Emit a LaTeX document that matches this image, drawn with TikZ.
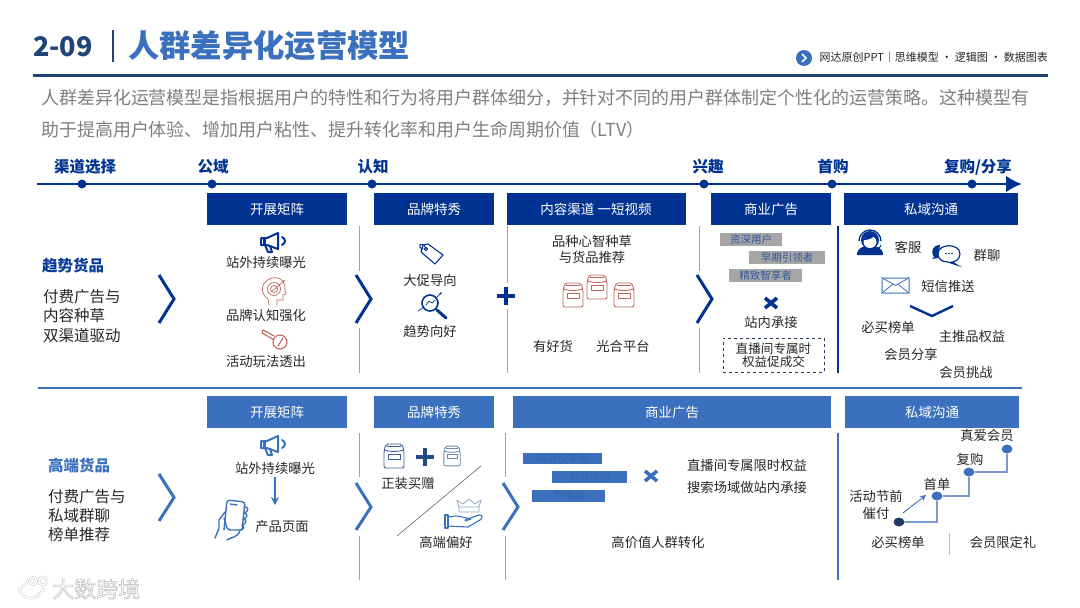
\documentclass[tikz,border=0pt]{standalone}
\usepackage{fontspec}
\usepackage{tikz}
\usepackage{xcolor}
\usetikzlibrary{arrows.meta,positioning,calc,shapes.geometric,backgrounds}
\setmainfont{Noto Sans CJK SC}
\definecolor{ink}{HTML}{262626}
\definecolor{inkgray}{HTML}{7F7F7F}
\definecolor{navyblue}{HTML}{003391}
\definecolor{deepblue}{HTML}{1F4478}
\definecolor{midblue}{HTML}{3A70BE}
\definecolor{softblue}{HTML}{8FA5C8}
\definecolor{stepblue}{HTML}{7A9BD0}
\definecolor{darkdot}{HTML}{1F3864}
\definecolor{iconred}{HTML}{C0655A}
\definecolor{tagtext}{HTML}{34589C}
\definecolor{bartext}{HTML}{3565AE}
\definecolor{bagblue}{HTML}{3D5F96}
\newcommand{\pxfont}[1]{\fontsize{#1}{#1}\selectfont}
\tikzset{
  txt/.style={inner sep=0pt,font=\pxfont{13.3},text=ink,align=center},
  sidetxt/.style={inner sep=0pt,font=\pxfont{15.5},text=ink,anchor=west},
  headbox/.style={fill=navyblue,inner sep=0pt,minimum height=32,
                  text=white,font=\pxfont{13.5}},
  headlite/.style={headbox,fill=midblue},
  stage/.style={inner sep=0pt,font=\pxfont{15.5}\bfseries,text=navyblue},
  tldot/.style={circle,fill=navyblue,inner sep=0pt,minimum size=9},
  stepdot/.style={ellipse,fill=midblue,inner sep=0pt,minimum width=11,minimum height=9},
  graytag/.style={fill=black!35,inner sep=0pt,minimum height=13,
                  text=tagtext,font=\pxfont{10.5}},
  bluebar/.style={fill=midblue,inner sep=0pt,text=bartext,font=\pxfont{10.5}},
  chev/.style={navyblue,line width=3pt,line join=miter},
  thinline/.style={softblue,line width=0.8pt},
  crossmark/.style={line width=3.6pt},
  flowarr/.style={-{Stealth[length=8pt,width=8pt]},midblue,line width=1.8pt},
  iconline/.style={line width=1.1pt,line join=round,line cap=round},
  markline/.style={draw=black!22,double=white,double distance=1.5pt,line width=0.5pt}
}
\newcommand{\megaphone}[3]{%
  \begin{scope}[shift={(#1,#2)},#3,iconline,line width=2pt]
    \draw (-13,-4) -- (-7,-4) -- (4,-9) -- (4,7) -- (-7,3) -- (-13,3) -- cycle;
    \draw (-9,3) -- (-6,10) -- (-2,10) -- (-4,4);
    \draw (8,-5) .. controls (12,-3) and (12,1) .. (8,3);
    \fill (-11,-3) rectangle (-8,2);
  \end{scope}}
\newcommand{\bagicon}[4]{%
  \begin{scope}[shift={(#1,#2)},scale=#4,#3,iconline,line width=0.9pt]
    \draw[rounded corners=2pt] (-8,-12) -- (8,-12) -- (10,-5) -- (10,12) -- (-10,12) -- (-10,-5) -- cycle;
    \draw (-9.5,-6) .. controls (-5,-4) and (5,-4) .. (9.5,-6);
    \draw[line width=0.4pt] (-7,-10) -- (7,-10);
    \draw[line width=0.7pt] (-6,-2) rectangle (6,3);
  \end{scope}}
\newcommand{\timesmark}[3]{%
  \draw[#3,crossmark] (#1-6,#2-5) -- (#1+6,#2+5) (#1-6,#2+5) -- (#1+6,#2-5);}
\begin{document}
\begin{tikzpicture}[x=1pt,y=-1pt,>=Stealth]
  \useasboundingbox (0,0) rectangle (1080,608);
  % title block
  \node[inner sep=0pt,font=\pxfont{27}\bfseries,text=deepblue,anchor=west] (num) at (33,47) {2-09};
  \node[inner sep=0pt,font=\pxfont{31.3}\bfseries,text=midblue,anchor=west] (title) at (128,46) {人群差异化运营模型};
  \draw[deepblue,line width=2.4pt] (113,30) -- (113,62);
  \draw[deepblue,line width=3pt] (33,75) -- (1048,75);
  \node[circle,fill=midblue,inner sep=0pt,minimum size=16] (badge) at (804,58) {};
  \draw[white,line width=1.6pt] (802,54) -- (806,58) -- (802,62);
  \node[inner sep=0pt,font=\pxfont{11},text=ink,anchor=east] (tagline) at (1048,57) {网达原创PPT｜思维模型 · 逻辑图 · 数据图表};
  \node[inner sep=0pt,font=\pxfont{17.96},text=inkgray,anchor=west] (para1) at (41,98)
    {人群差异化运营模型是指根据用户的特性和行为将用户群体细分，并针对不同的用户群体制定个性化的运营策略。这种模型有};
  \node[inner sep=0pt,font=\pxfont{17.96},text=inkgray,anchor=west] (para2) at (41,130)
    {助于提高用户体验、增加用户粘性、提升转化率和用户生命周期价值（LTV）};

  % stage axis
  \coordinate (axisstart) at (37,184);
  \coordinate (axisend) at (1022,184);
  \draw[navyblue,line width=2.8pt,-{Latex[length=16pt,width=17pt]}] (axisstart) -- (axisend);
  \foreach \name/\xpos in {t1/82,t2/212,t3/372,t4/704,t5/832,t6/972} {
    \node[tldot] (\name) at (\xpos,184) {};
  }
  \node[stage] (s1) at (85,167) {渠道选择};
  \node[stage] (s2) at (213,167) {公域};
  \node[stage] (s3) at (373,167) {认知};
  \node[stage] (s4) at (708,167) {兴趣};
  \node[stage] (s5) at (833,167) {首购};
  \node[stage] (s6) at (978,167) {复购/分享};

  % upper row
  \node[headbox,minimum width=140] (h1) at (277,209) {开展矩阵};
  \node[headbox,minimum width=120] (h2) at (434,209) {品牌特秀};
  \node[headbox,minimum width=179] (h3) at (596,209) {内容渠道 一短视频};
  \node[headbox,minimum width=120] (h4) at (771,209) {商业广告};
  \node[headbox,minimum width=174] (h5) at (931,209) {私域沟通};

  \node[sidetxt,font=\pxfont{15.5}\bfseries,text=navyblue!85!midblue] (goods1) at (42,266) {趋势货品};
  \node[sidetxt] (a1) at (43,297) {付费广告与};
  \node[sidetxt] (a2) at (43,316) {内容种草};
  \node[sidetxt] (a3) at (43,336) {双渠道驱动};
  \draw[chev] (159,275) -- (174,299) -- (159,323);
  \draw[chev] (356,275) -- (371,299) -- (356,323);
  \draw[chev] (697,275) -- (712,299) -- (697,323);
  \draw[thinline] (359,226) -- (359,271) (359,328) -- (359,373);
  \draw[thinline] (507,226) -- (507,283) (507,309) -- (507,373);
  \draw[thinline] (699,226) -- (699,271) (699,328) -- (699,373);
  \draw[navyblue,line width=2.4pt] (838,226) -- (838,373);

  \megaphone{274}{242}{navyblue}
  \node[txt] (m1) at (266,262) {站外持续曝光};
  % head
  \begin{scope}[shift={(274,291)},iconred,iconline,line width=0.7pt]
    \draw (-5,14) -- (-6,8) .. controls (-14,3) and (-14,-10) .. (-2,-13) .. controls (8,-15) and (12,-7) .. (11,-1) -- (12,3) -- (9,4) -- (9,9) -- (3,9) -- (3,14);
    \draw (0,-2) circle (6.5) (0,-2) circle (3.5);
    \draw[-{Stealth[length=3pt]}] (-2,0) -- (2,-3) -- (11,-11);
  \end{scope}
  \node[txt] (m2) at (266,315) {品牌认知强化};
  % key
  \begin{scope}[shift={(274,339)},iconred,iconline]
    \draw (6,3) circle (7);
    \draw (4,7) -- (9,-1);
    \draw (-0.5,0.5) -- (-12,-6) -- (-11,-9) -- (0,-3);
  \end{scope}
  \node[txt] (m3) at (266,361) {活动玩法透出};

  % tag
  \begin{scope}[shift={(430,252)},navyblue,iconline]
    \draw (-7,-7) -- (-2,-8) -- (13,3) -- (5,12) -- (-9,0) -- cycle;
    \draw (-4,-3) circle (1.6);
    \draw (-4,-4) .. controls (-9,-12) and (-14,-5) .. (-7,-3);
  \end{scope}
  \node[txt] (b1) at (430,280) {大促导向};
  % magnifier
  \begin{scope}[shift={(432,305)},navyblue,iconline]
    \draw[line width=1.6pt] (-2,-2) circle (8);
    \draw[line width=3pt] (5,5) -- (14,13);
    \draw[line width=0.7pt] (-6,0) -- (-3,-4) -- (0,-2) -- (3,-5);
    \draw[line width=0.7pt,-{Stealth[length=3pt]}] (-14,6) -- (-8,2) (4,-7) -- (10,-13);
  \end{scope}
  \node[txt] (b2) at (430,331) {趋势向好};
  \node[inner sep=0pt,minimum size=18] (plusa) at (506,296) {};
  \draw[navyblue,line width=3.4pt] (plusa.west) -- (plusa.east) (plusa.north) -- (plusa.south);

  \node[txt] (c1) at (592,241) {品种心智种草};
  \node[txt] (c2) at (592,257) {与货品推荐};
  \bagicon{573}{295}{iconred}{1}
  \bagicon{597}{287}{iconred}{1}
  \bagicon{624}{295}{iconred}{1}
  \node[txt] (c3) at (553,346) {有好货};
  \node[txt] (c4) at (623,346) {光合平台};

  \node[graytag,minimum width=62] (g1) at (751,239.5) {资深用户};
  \node[graytag,minimum width=76] (g2) at (787,257.5) {早期引领者};
  \node[graytag,minimum width=73] (g3) at (765.5,275.5) {精致智享者};
  \timesmark{771}{303}{navyblue}
  \node[txt] (d1) at (771,322) {站内承接};
  \node[txt,draw=darkdot,dashed,line width=0.8pt,minimum width=101,minimum height=34,font=\pxfont{12.6}] (d2) at (773.5,355)
    {直播间专属时\\权益促成交};

  % headset
  \begin{scope}[shift={(870,243)}]
    \fill[navyblue] (-13,12) .. controls (-13,5) and (-7,4) .. (-5,3) -- (5,3) .. controls (7,4) and (13,5) .. (13,12) -- cycle;
    \fill[navyblue] (0,-3) circle (9);
    \fill[white] (0,-1) ellipse (6.5 and 6);
    \fill[navyblue] (-7,-3) .. controls (-3,-3) and (2,-4) .. (4,-7) -- (0,-10) -- cycle;
    \draw[navyblue,line width=1.3pt] (-11,-2) arc (180:360:11);
    \draw[navyblue,line width=1pt] (11,2) .. controls (10,6) and (6,6) .. (3,5);
  \end{scope}
  \node[txt] (e1) at (908,247) {客服};
  % chat bubbles
  \begin{scope}[shift={(946,254)}]
    \fill[navyblue] (-6,-9) .. controls (-13,-9) and (-16,-3) .. (-12,3) -- (-14,5) -- (-8,4) -- cycle;
    \draw[navyblue,fill=white,line width=1.2pt] (-8,0) .. controls (-8,-11) and (14,-11) .. (14,0) .. controls (14,6) and (8,8) .. (6,8) -- (11,11) -- (2,8) .. controls (-4,8) and (-8,5) .. (-8,0) -- cycle;
    \foreach \dotx in {0,3,6} { \fill[navyblue] (\dotx,-0.5) circle (0.9); }
  \end{scope}
  \node[txt] (e2) at (987,255) {群聊};
  \node[draw=midblue,line width=1pt,rounded corners=1pt,inner sep=0pt,minimum width=27,minimum height=15] (mail) at (895.5,285.5) {};
  \draw[midblue,line width=0.8pt] (mail.north west) -- (mail.center) -- (mail.north east) (mail.south west) -- ($(mail.center)+(-3,-1)$) (mail.south east) -- ($(mail.center)+(3,-1)$);
  \node[txt] (e3) at (948,286) {短信推送};
  \draw[navyblue,line width=2.4pt] (910,306) -- (932,316) -- (953,306);
  \node[txt] (e4) at (888,327) {必买榜单};
  \node[txt] (e5) at (972,336) {主推品权益};
  \node[txt] (e6) at (911,354) {会员分享};
  \node[txt] (e7) at (966,372) {会员挑战};

  \draw[midblue,line width=2.4pt] (38,388) -- (1022,388);

  % lower row
  \node[headlite,minimum width=140] (k1) at (277,412) {开展矩阵};
  \node[headlite,minimum width=120] (k2) at (434,412) {品牌特秀};
  \node[headlite,minimum width=318] (k3) at (672,412) {商业广告};
  \node[headlite,minimum width=174] (k4) at (932,412) {私域沟通};

  \node[sidetxt,font=\pxfont{15.5}\bfseries,text=midblue] (goods2) at (48,466) {高端货品};
  \node[sidetxt] (p1) at (48,497) {付费广告与};
  \node[sidetxt] (p2) at (48,516) {私域群聊};
  \node[sidetxt] (p3) at (48,535) {榜单推荐};
  \draw[chev,midblue] (159,474) -- (174,497.5) -- (159,521);
  \draw[chev,midblue] (356,483) -- (371,507) -- (356,530);
  \draw[chev,midblue] (503,483) -- (518,507) -- (503,530);
  \draw[thinline] (359,433) -- (359,477) (359,536) -- (359,580);
  \draw[thinline] (505,433) -- (505,477) (505,536) -- (505,580);
  \draw[midblue,line width=2.4pt] (838,433) -- (838,580);

  \megaphone{274}{445}{midblue}
  \node[txt] (q1) at (275,468) {站外持续曝光};
  \node[txt] (q2) at (282,526) {产品页面};
  \coordinate (q1down) at (275,477);
  \coordinate (q2up) at (275,505);
  \draw[flowarr] (q1down) -- (q2up);
  % phone in hand
  \begin{scope}[shift={(231,520)},midblue,iconline,line width=1.4pt]
    \draw[rounded corners=3pt] (-7,10) -- (-4,-20) -- (14,-18) -- (11,10);
    \draw (-1,-16) -- (6,-15);
    \draw (-6,-8) -- (-12,0) -- (-12,8) -- (-16,18);
    \draw (-7,-2) -- (-4,8) -- (-1,10);
    \draw (-1,10) -- (9,10) .. controls (9,14) and (4,17) .. (0,18) -- (-4,20);
    \draw (13,-13) .. controls (18,-14) and (18,-8) .. (13,-7) .. controls (17,-7) and (17,-2) .. (12,-1) .. controls (16,-1) and (16,4) .. (11,5) .. controls (14,6) and (13,10) .. (9,10);
  \end{scope}

  \bagicon{394}{456}{bagblue}{1}
  \bagicon{452}{456}{softblue!60!bagblue}{0.82}
  \node[inner sep=0pt,minimum size=17] (plusb) at (425,457) {};
  \draw[deepblue!80!midblue,line width=3.2pt] (plusb.west) -- (plusb.east) (plusb.north) -- (plusb.south);
  \node[txt] (r1) at (408,483) {正装买赠};
  \coordinate (slashtop) at (481,466);
  \coordinate (slashend) at (397,536);
  \draw[black!60,line width=0.6pt] (slashtop) -- (slashend);
  % crown on a hand
  \draw[softblue,iconline,line width=0.8pt] (459,507) -- (457,500) -- (463,504) -- (469,499) -- (475,504) -- (481,500) -- (479,507) -- cycle (459,512) -- (479,512) -- (479,507) (459,507) -- (459,512);
  \begin{scope}[shift={(463,522)},midblue,iconline]
    \draw (-18,-7) -- (-15,-7) -- (-15,6) -- (-18,6) -- cycle;
    \draw (-15,-5) -- (-7,-6) .. controls (-2,-6) and (0,-4) .. (4,-4) -- (8,-3) -- (2,-1);
    \draw (2,-2) -- (16,-7) .. controls (20,-7) and (20,-4) .. (17,-2) -- (5,5) -- (-15,4);
  \end{scope}
  \node[txt] (r2) at (446,542) {高端偏好};

  \node[bluebar,minimum width=79,minimum height=11] (v1) at (562.5,458.5) {高端悦享者};
  \node[bluebar,minimum width=75,minimum height=12] (v2) at (589.5,477) {资深用户};
  \node[bluebar,minimum width=73,minimum height=12] (v3) at (568.5,496) {先锋者};
  \timesmark{651}{476}{midblue}
  \node[txt] (w1) at (747,465) {直播间专属限时权益};
  \node[txt] (w2) at (747,487) {搜索场域做站内承接};
  \node[txt] (w3) at (658,542) {高价值人群转化};

  \node[stepdot,fill=darkdot] (n1) at (899,522) {};
  \node[stepdot] (n2) at (937,496) {};
  \node[stepdot] (n3) at (969,472) {};
  \node[stepdot] (n4) at (1007,449) {};
  \begin{scope}[on background layer]
    \draw[stepblue,line width=1.2pt] (n1) -| (n2) (n2) -| (n3) (n3) -| (n4);
  \end{scope}
  \coordinate (pushfrom) at (903,513);
  \coordinate (pushto) at (926,495);
  \draw[flowarr,-{Stealth[length=6pt,width=6pt]},line width=0.9pt] (pushfrom) -- (pushto);
  \node[txt] (y1) at (987,435) {真爱会员};
  \node[txt] (y2) at (970,459) {复购};
  \node[txt] (y3) at (937,484) {首单};
  \node[txt] (y4) at (876,505) {活动节前\\[3pt]催付};
  \node[txt] (y5) at (898,542) {必买榜单};
  \node[txt] (y6) at (1003,542) {会员限定礼};
  \draw[black!25,line width=1pt] (949,533) -- (949,555);

  % watermark
  \draw[markline] (13,581) -- (13,598);
  \draw[markline] (29,580) -- (19,590) -- (24,596) .. controls (30,601) and (40,597) .. (44,588);
  \draw[markline] (33,581) circle (3.5) (43,581) circle (4);
  \node[inner sep=0pt,font=\pxfont{22},text=white,anchor=west] (mark) at (52,589)
    {\special{pdf:code 2 Tr 0.5 w 0.72 G}大数跨境\special{pdf:code 0 Tr}};
\end{tikzpicture}
\end{document}
